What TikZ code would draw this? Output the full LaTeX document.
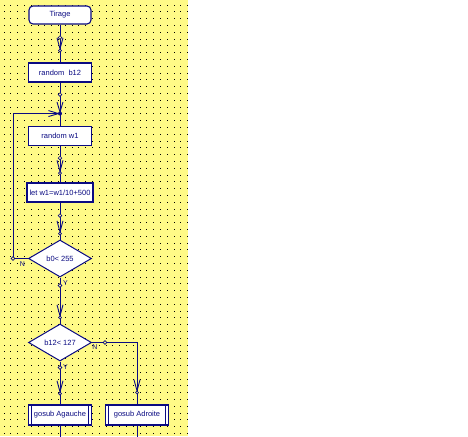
\documentclass[tikz,border=0pt]{standalone}
\usepackage{fontspec}
\setmainfont{Liberation Sans}
\usepackage{tikz}
\usetikzlibrary{shapes,arrows.meta,positioning,decorations.markings}

\definecolor{paper}{RGB}{255,250,135}
\definecolor{ink}{RGB}{10,10,130}

\begin{document}
\begin{tikzpicture}[
    x=1pt, y=-1pt,
    node distance=60pt,
    font=\fontsize{7.5}{9}\selectfont,
    start/.style={rectangle, draw=ink, fill=white, rounded corners=4pt, minimum width=62pt, minimum height=18pt, text=ink, line width=1.1pt},
    block/.style={rectangle, draw=ink, fill=white, minimum width=63pt, minimum height=19pt, inner sep=1pt, text=ink, line width=1.1pt},
    test/.style={diamond, draw=ink, fill=white, minimum width=63pt, minimum height=37pt, inner sep=0pt, text=ink, line width=1pt},
    call/.style={block, minimum height=20pt, path picture={
        \draw[ink, line width=0.9pt] ([xshift=3pt]path picture bounding box.north west) -- ([xshift=3pt]path picture bounding box.south west);
        \draw[ink, line width=0.9pt] ([xshift=-3pt]path picture bounding box.north east) -- ([xshift=-3pt]path picture bounding box.south east);}},
    lbl/.style={text=ink, font=\fontsize{7}{8}\selectfont, inner sep=0pt},
    link/.style={draw=ink, line width=0.9pt},
    ring/.style={draw=ink, fill=paper, line width=0.7pt},
    barb/.style={-{Straight Barb[length=10pt, width=6pt]}},
    dotat/.style={postaction={decorate, decoration={markings,
        mark=at position #1 with {\draw[ring] (0,0) circle (1.8pt);}}}},
    flow/.style 2 args={link, dotat=#1, postaction={decorate, decoration={markings,
        mark=at position #2 with {\arrow[color=ink, line width=0.9pt]{Straight Barb[length=11pt, width=6pt]}
            \draw[ring] (0,0) circle (1.5pt);}}}}
]
    % Background and grid
    \useasboundingbox (0,0) rectangle (468,436);
    \fill[paper] (0,0) rectangle (188,436);
    \foreach \i in {0,...,27}
        \foreach \j in {0,...,63}
            \fill[black] ({3.6+6.8*\i},{4.6+6.8*\j}) rectangle ++(0.9,0.9);

    % Steps
    \node[start] (tirage) at (60,15) {Tirage};
    \node[block, below of=tirage, yshift=2.5pt] (randb) {random\ \ b12};
    \coordinate[below=31pt of randb] (join);
    \node[block, below of=randb, yshift=-3.5pt] (randw) {random w1};
    \node[block, below of=randw, yshift=3.5pt, minimum width=66pt] (letw) {let w1=w1/10+500};

    % Tests
    \node[test, below of=letw, yshift=-6pt] (testb) {b0< 255};
    \node[test, below of=testb, yshift=-24pt] (testbb) {b12< 127};

    % Calls
    \node[call, below of=testbb, yshift=-12.5pt] (gauche) {gosub Agauche};
    \node[call, right of=gauche, xshift=17pt] (droite) {gosub Adroite};

    % Branch labels
    \node[lbl, anchor=west] (ya) at ([xshift=3pt, yshift=-6pt]testb.south) {Y};
    \node[lbl] (na) at ([xshift=-5.5pt, yshift=-5.5pt]testb.west) {N};
    \node[lbl, anchor=west] (yb) at ([xshift=3pt, yshift=-6pt]testbb.south) {Y};
    \node[lbl] (nb) at ([xshift=3pt, yshift=-5pt]testbb.east) {N};

    % Connections
    \path[flow={13pt}{26pt}] (tirage) -- (randb);
    \draw[link, dotat=12pt, barb] (randb) -- (join);
    \fill[ink] (join) circle (2pt);
    \draw[link] (join) -- (randw);
    \path[flow={12pt}{27pt}] (randw) -- (letw);
    \path[flow={13pt}{31pt}] (letw) -- (testb);
    \draw[link, dotat=15pt, barb] (testb.west) -- ++(-15,0) |- (join);
    \path[flow={8pt}{40pt}] (testb) -- (testbb);
    \path[flow={6pt}{32pt}] (testbb) -- (gauche);
    \path[flow={13pt}{95pt}] (testbb.east) -| (droite);
    \draw[link] (gauche.south) -- ++(0,12);
    \draw[link] (droite.south) -- ++(0,12);
\end{tikzpicture}
\end{document}
